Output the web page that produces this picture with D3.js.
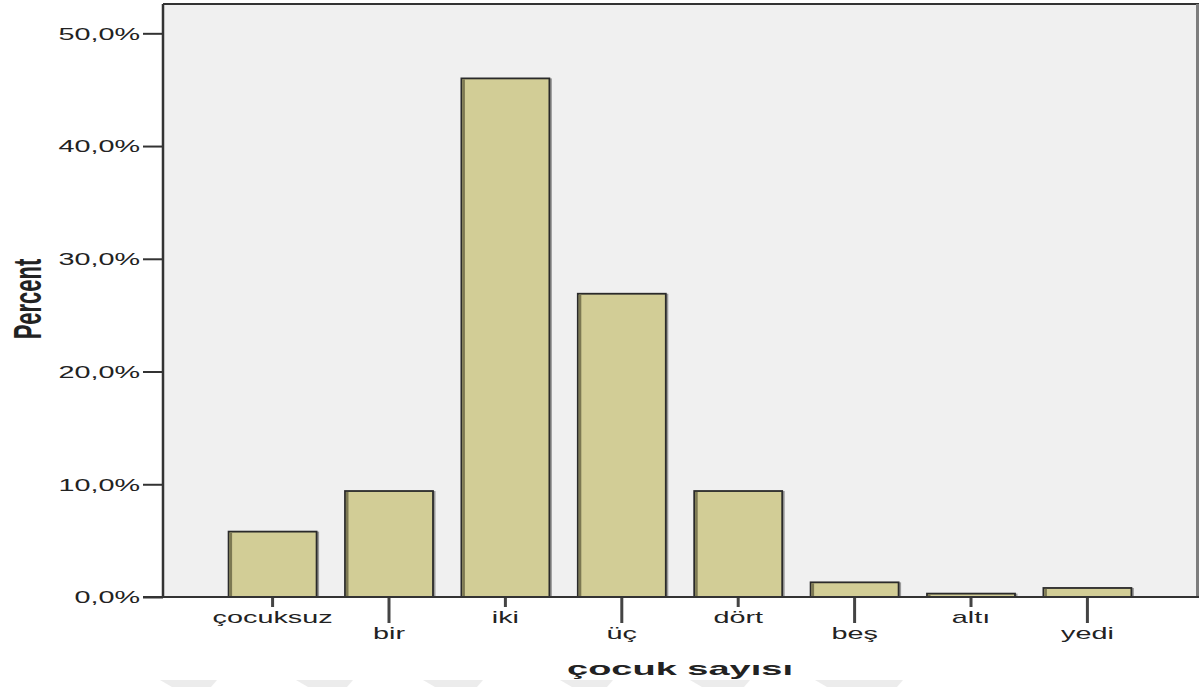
<!DOCTYPE html>
<html>
<head>
<meta charset="utf-8">
<script src="https://cdn.jsdelivr.net/npm/d3@7"></script>
<style>
  html, body { margin: 0; padding: 0; background: #ffffff; }
  svg { display: block; }
  text { font-family: "Liberation Sans", Arial, sans-serif; fill: #222; }
</style>
</head>
<body>
<svg id="chart" width="1200" height="687"></svg>
<script>
// ---- data ----
const categories = ["çocuksuz", "bir", "iki", "üç", "dört", "beş", "altı", "yedi"];
const percents   = [5.8, 9.4, 46.0, 26.9, 9.4, 1.3, 0.3, 0.8];
const yTickValues = [0, 10, 20, 30, 40, 50];
const yTickLabels = ["0,0%", "10,0%", "20,0%", "30,0%", "40,0%", "50,0%"];
const xTitle = "çocuk sayısı";
const yTitle = "Percent";

// ---- layout ----
const plot = { left: 163, right: 1197, top: 4, bottom: 597 };
const SX = 1.8; // horizontal stretch of the original picture

const svg = d3.select("#chart");

const x = d3.scaleBand()
  .domain(categories)
  .range([plot.left, plot.right])
  .paddingInner(0.244)
  .paddingOuter(0.5635);

const y = d3.scaleLinear()
  .domain([0, 52.6])
  .range([plot.bottom, plot.top]);

// faint watermark shapes at the bottom edge
const wm = [[160, 217], [296, 353], [423, 483], [560, 613], [690, 750], [815, 903]];
svg.append("g").selectAll("polygon").data(wm).join("polygon")
  .attr("points", d => `${d[0]},680 ${d[1]},680 ${d[1] - 6},687 ${d[0] + 12},687`)
  .attr("fill", "#ececec");

// plot background
svg.append("rect")
  .attr("x", plot.left).attr("y", plot.top)
  .attr("width", plot.right - plot.left).attr("height", plot.bottom - plot.top)
  .attr("fill", "#f0f0f0");

// top and right frame
svg.append("line")
  .attr("x1", plot.left).attr("x2", plot.right + 2)
  .attr("y1", plot.top).attr("y2", plot.top)
  .attr("stroke", "#333").attr("stroke-width", 2);
svg.append("line")
  .attr("x1", plot.right + 0.5).attr("x2", plot.right + 0.5)
  .attr("y1", plot.top).attr("y2", plot.bottom)
  .attr("stroke", "#7d7d7d").attr("stroke-width", 3);

// bars
const bars = svg.append("g");
const bw = x.bandwidth();
// right shadow
bars.selectAll("rect.shadow").data(percents).join("rect")
  .attr("class", "shadow")
  .attr("x", (d, i) => x(categories[i]) + bw)
  .attr("y", d => y(d))
  .attr("width", 2.5)
  .attr("height", d => plot.bottom - y(d))
  .attr("fill", "#9a9a9a");
bars.selectAll("rect.bar").data(percents).join("rect")
  .attr("class", "bar")
  .attr("x", (d, i) => x(categories[i]))
  .attr("y", d => y(d))
  .attr("width", bw)
  .attr("height", d => plot.bottom - y(d))
  .attr("fill", "#d2cd96")
  .attr("stroke", "#2a2a2a")
  .attr("stroke-width", 1.8);
// left inner dark strip
bars.selectAll("rect.lstrip").data(percents).join("rect")
  .attr("class", "lstrip")
  .attr("x", (d, i) => x(categories[i]) + 0.9)
  .attr("y", d => y(d) + 0.9)
  .attr("width", 2.6)
  .attr("height", d => Math.max(0, plot.bottom - y(d) - 1.8))
  .attr("fill", "#7c7852");

// y axis
const yAxis = svg.append("g")
  .attr("transform", `translate(${plot.left},0)`)
  .call(d3.axisLeft(y).tickValues(yTickValues)
    .tickFormat((d, i) => yTickLabels[i]).tickSize(20).tickPadding(3));
yAxis.select(".domain").remove();
yAxis.selectAll(".tick line").attr("stroke", "#333").attr("stroke-width", 2);
yAxis.selectAll(".tick text")
  .attr("font-size", 16)
  .attr("font-family", "Liberation Sans, Arial, sans-serif")
  .attr("fill", "#222")
  .attr("dy", "0.36em")
  .attr("x", -23 / SX)
  .attr("transform", `scale(${SX},1)`);
svg.append("line")
  .attr("x1", plot.left).attr("x2", plot.left)
  .attr("y1", plot.top).attr("y2", plot.bottom + 1)
  .attr("stroke", "#333").attr("stroke-width", 2.5);

// x axis
const xAxis = svg.append("g")
  .attr("transform", `translate(0,${plot.bottom})`)
  .call(d3.axisBottom(x).tickSizeOuter(0).tickSize(10));
xAxis.select(".domain").remove();
xAxis.selectAll(".tick line")
  .attr("y2", (d, i) => i % 2 === 0 ? 10 : 26)
  .attr("stroke", "#444").attr("stroke-width", 3);
xAxis.selectAll(".tick text")
  .attr("font-size", 16)
  .attr("font-family", "Liberation Sans, Arial, sans-serif")
  .attr("fill", "#222")
  .attr("dy", null)
  .attr("y", (d, i) => i % 2 === 0 ? 26 : 42)
  .attr("x", 0)
  .attr("transform", `scale(${SX},1)`)
  .attr("text-anchor", "middle");
svg.append("line")
  .attr("x1", plot.left - 20).attr("x2", plot.right + 2)
  .attr("y1", plot.bottom).attr("y2", plot.bottom)
  .attr("stroke", "#333").attr("stroke-width", 2);

// axis titles
svg.append("text")
  .attr("transform", `translate(${(plot.left + plot.right) / 2},675) scale(2.0,1)`)
  .attr("text-anchor", "middle")
  .attr("font-size", 19)
  .attr("font-weight", "bold")
  .attr("fill", "#111")
  .text(xTitle);

svg.append("text")
  .attr("transform", `translate(27,299) scale(${SX},1) rotate(-90)`)
  .attr("text-anchor", "middle")
  .attr("dy", "0.36em")
  .attr("font-size", 22)
  .attr("font-weight", "bold")
  .attr("fill", "#111")
  .text(yTitle);
</script>
</body>
</html>
